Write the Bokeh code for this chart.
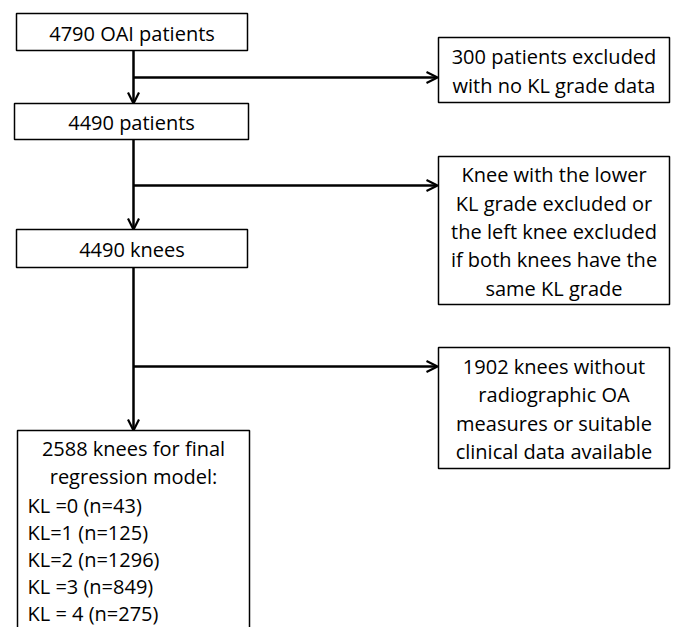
from bokeh.plotting import figure
from bokeh.models import Range1d, Arrow, OpenHead
from bokeh.embed import file_html
from bokeh.resources import INLINE
from bokeh.core.properties import value

# ---- content (data) ----
main_steps = ["4790 OAI patients", "4490 patients", "4490 knees"]
exclusions = [
    ["300 patients excluded", "with no KL grade data"],
    ["Knee with the lower", "KL grade excluded or", "the left knee excluded",
     "if both knees have the", "same KL grade"],
    ["1902 knees without", "radiographic OA", "measures or suitable",
     "clinical data available"],
]
final_title = ["2588 knees for final", "regression model:"]
kl_labels = ["KL =0", "KL=1", "KL=2", "KL =3", "KL = 4"]
kl_counts = [43, 125, 1296, 849, 275]

# ---- layout (picture pixel coordinates) ----
W, H = 677, 627
main_boxes = [(16, 247, 13, 50), (14, 248, 103, 139), (16, 247, 229, 267)]
excl_boxes = [(438, 669, 37, 102), (438, 669, 156, 304), (438, 669, 347, 468)]
final_box = (17, 249, 430, 700)
spine_x = 133
branch_y = [77, 185, 366]
LINE_H = 28.3
KL_LINE_H = 27.0
FONT = value("Open Sans")
FS = "20px"

p = figure(width=W, height=H, x_range=Range1d(0, W), y_range=Range1d(H, 0),
           output_backend="svg", toolbar_location=None, min_border=0,
           outline_line_color=None)
p.axis.visible = False
p.grid.visible = False

# boxes
allb = main_boxes + excl_boxes + [final_box]
p.quad(left=[b[0] for b in allb], right=[b[1] for b in allb],
       top=[b[2] for b in allb], bottom=[b[3] for b in allb],
       fill_color="white", line_color="black", line_width=1.5)

# main step texts
p.text(x=[(b[0] + b[1]) / 2 for b in main_boxes],
       y=[(b[2] + b[3]) / 2 + 1 for b in main_boxes],
       text=main_steps, text_font=FONT, text_font_size=FS,
       text_align="center", text_baseline="middle", text_color="black")

# exclusion texts
xs, ys, ts = [], [], []
for b, lines in zip(excl_boxes, exclusions):
    cy = (b[2] + b[3]) / 2
    n = len(lines)
    for i, t in enumerate(lines):
        xs.append((b[0] + b[1]) / 2)
        ys.append(cy + (i - (n - 1) / 2) * LINE_H + 1)
        ts.append(t)
p.text(x=xs, y=ys, text=ts, text_font=FONT, text_font_size=FS,
       text_align="center", text_baseline="middle", text_color="black")

# final box texts
fx = (final_box[0] + final_box[1]) / 2
first_y = final_box[2] + 18
p.text(x=[fx] * len(final_title), y=[first_y + i * LINE_H for i in range(len(final_title))],
       text=final_title, text_font=FONT, text_font_size=FS,
       text_align="center", text_baseline="middle", text_color="black")
kl_text = [f"{l} (n={c})" for l, c in zip(kl_labels, kl_counts)]
kl_start = first_y + len(final_title) * LINE_H
p.text(x=[final_box[0] + 10] * len(kl_text),
       y=[kl_start + i * KL_LINE_H for i in range(len(kl_text))],
       text=kl_text, text_font=FONT, text_font_size=FS,
       text_align="left", text_baseline="middle", text_color="black")

# vertical arrows between main boxes
targets = [main_boxes[1][2], main_boxes[2][2], final_box[2]]
sources = [main_boxes[0][3], main_boxes[1][3], main_boxes[2][3]]
for s, t in zip(sources, targets):
    p.add_layout(Arrow(end=OpenHead(size=11, line_width=2.2, line_color="black"),
                       x_start=spine_x, y_start=s, x_end=spine_x, y_end=t,
                       line_width=2.5, line_color="black"))

# horizontal arrows to exclusion boxes
for y, b in zip(branch_y, excl_boxes):
    p.add_layout(Arrow(end=OpenHead(size=11, line_width=2.2, line_color="black"),
                       x_start=spine_x, y_start=y, x_end=b[0] - 1, y_end=y,
                       line_width=2.5, line_color="black"))

open("out.html", "w").write(file_html(p, INLINE))
